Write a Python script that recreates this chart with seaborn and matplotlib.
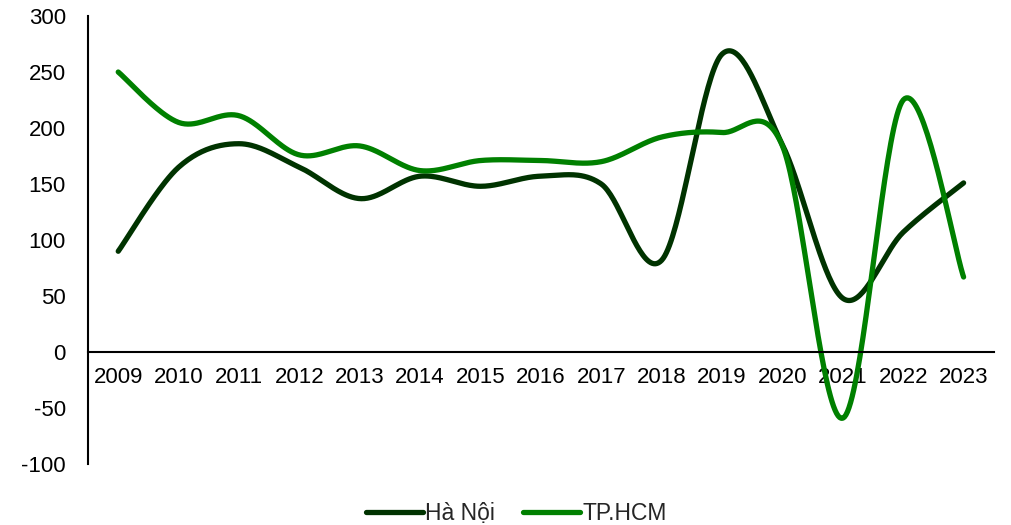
import numpy as np
import pandas as pd
import matplotlib
matplotlib.use("Agg")
import matplotlib.pyplot as plt
import seaborn as sns

# ── data ─────────────────────────────────────────────
years = [2009, 2010, 2011, 2012, 2013, 2014, 2015, 2016,
         2017, 2018, 2019, 2020, 2021, 2022, 2023]
ha_noi = [90, 165, 186, 165, 137, 157, 148, 157,
          150, 82, 266, 185, 48, 107, 151]
tp_hcm = [250, 205, 211, 176, 184, 162, 171, 171,
          170, 192, 196, 184, -59, 225, 67]
series_names = ["Hà Nội", "TP.HCM"]
colors = ["#003300", "#008000"]


# ── smooth line like a spreadsheet "smoothed line" (Catmull-Rom) ──
def smooth(xs, ys, yscale, n=40):
    x = np.asarray(xs, float)
    y = np.asarray(ys, float) * yscale
    P = np.column_stack([x, y])
    P = np.vstack([P[0], P, P[-1]])
    out = []
    for i in range(1, len(P) - 2):
        p0, p1, p2, p3 = P[i - 1], P[i], P[i + 1], P[i + 2]
        c1 = p1 + (p2 - p0) / 6
        c2 = p2 - (p3 - p1) / 6
        t = np.linspace(0, 1, n)[:, None]
        seg = ((1 - t) ** 3) * p1 + 3 * ((1 - t) ** 2) * t * c1 \
            + 3 * (1 - t) * t ** 2 * c2 + t ** 3 * p2
        out.append(seg if i == 1 else seg[1:])
    out = np.vstack(out)
    return out[:, 0], out[:, 1] / yscale


# aspect: ~60 px per year, ~1.12 px per unit
yscale = 1.12 / 60.4
frames = []
for name, vals in zip(series_names, [ha_noi, tp_hcm]):
    sx, sy = smooth(years, vals, yscale)
    frames.append(pd.DataFrame({"year": sx, "value": sy, "series": name}))
df = pd.concat(frames, ignore_index=True)

# ── plot ─────────────────────────────────────────────
sns.set_style("white")
plt.rcParams["font.family"] = ["Liberation Sans", "DejaVu Sans"]
plt.rcParams["axes.unicode_minus"] = False

fig = plt.figure(figsize=(10.12, 5.25), dpi=100)
ax = fig.add_axes([0.087, 0.116, 0.895, 0.8535])

sns.lineplot(data=df, x="year", y="value", hue="series",
             hue_order=series_names, palette=colors, sort=False,
             estimator=None, linewidth=3.8, ax=ax)
for ln in ax.lines:
    ln.set_solid_capstyle("round")

ax.set_xlim(2008.5, 2023.5)
ax.set_ylim(-100, 300)
ax.set_xticks(years)
ax.set_xticklabels([str(y) for y in years])
ax.set_yticks(range(-100, 301, 50))
ax.set_xlabel("")
ax.set_ylabel("")

for s in ["top", "right"]:
    ax.spines[s].set_visible(False)
ax.spines["bottom"].set_position(("data", 0))
ax.spines["bottom"].set_color("black")
ax.spines["bottom"].set_linewidth(1.5)
ax.spines["left"].set_color("black")
ax.spines["left"].set_linewidth(1.5)
ax.tick_params(axis="both", length=0, labelsize=16, colors="black")
ax.tick_params(axis="x", pad=11)
ax.tick_params(axis="y", pad=16)

leg = ax.legend(loc="center", bbox_to_anchor=(0.51, 0.022),
                bbox_transform=fig.transFigure, ncol=2, frameon=False,
                fontsize=16.5, handlelength=2.5, handletextpad=0.1,
                columnspacing=1.2, borderpad=0)
for h in leg.get_lines():
    h.set_linewidth(3.8)
    h.set_solid_capstyle("round")

plt.savefig("out.png", dpi=100)
